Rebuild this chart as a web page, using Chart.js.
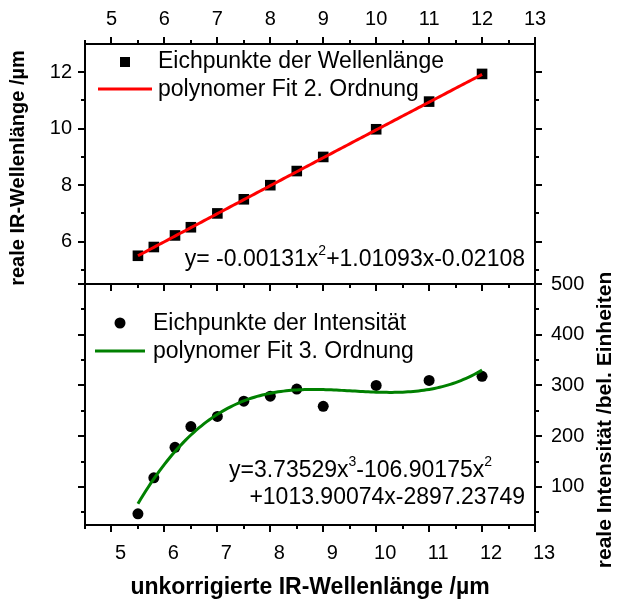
<!DOCTYPE html>
<html>
<head>
<meta charset="utf-8">
<script src="https://cdn.jsdelivr.net/npm/chart.js@4.4.1/dist/chart.umd.min.js"></script>
<style>
  html, body { margin: 0; padding: 0; background: #fff; }
  #wrap { position: relative; width: 617px; height: 605px; overflow: hidden; }
  #wrap canvas { position: absolute; left: 0; }
  #topChart { top: 0; }
  #bottomChart { top: 270px; }
</style>
</head>
<body>
<div id="wrap">
  <canvas id="bottomChart" width="617" height="335"></canvas>
  <canvas id="topChart" width="617" height="300"></canvas>
</div>
<script>
// calibration points (uncorrected wavelength, µm)
const uncorrected = [5.5, 5.8, 6.2, 6.5, 7.0, 7.5, 8.0, 8.5, 9.0, 10.0, 11.0, 12.0];
const realWavelength = [5.50, 5.81, 6.22, 6.51, 7.00, 7.50, 8.00, 8.50, 9.00, 9.98, 10.96, 11.94];
const realIntensity = [47, 118, 178, 219, 239, 269, 279, 293, 259, 300, 310, 318];

// fit coefficients, lowest order first
const fit2Coef = [-0.02108, 1.01093, -0.00131];
const fit3Coef = [-2897.23749, 1013.90074, -106.90175, 3.73529];
const fitRange = [5.5, 12];

// axis ticks
const xTicks = [5, 6, 7, 8, 9, 10, 11, 12, 13];
const xMinor = [4.5, 5.5, 6.5, 7.5, 8.5, 9.5, 10.5, 11.5, 12.5];
const waveTicks = [6, 8, 10, 12];
const waveMinor = [5, 7, 9, 11];
const intTicks = [100, 200, 300, 400, 500];
const intMinor = [50, 150, 250, 350, 450];

const FONT = "'Liberation Sans', Arial, sans-serif";
const NOTE_SIZE = 23;

function poly(c, x) {
  return c.reduce((s, a, i) => s + a * Math.pow(x, i), 0);
}
function fitPoints(c) {
  const pts = [];
  for (let x = fitRange[0]; x <= fitRange[1] + 1e-9; x += 0.05) {
    pts.push({ x: x, y: poly(c, x) });
  }
  return pts;
}
function pairs(xs, ys) {
  return xs.map((x, i) => ({ x: x, y: ys[i] }));
}

// outward tick marks, major and minor, on every side of a panel
const tickMarks = {
  id: 'tickMarks',
  afterDraw(chart, args, opts) {
    const ctx = chart.ctx;
    ctx.save();
    ctx.strokeStyle = '#000';
    ctx.lineWidth = 2;
    Object.keys(opts.sets || {}).forEach(id => {
      const scale = chart.scales[id];
      const set = opts.sets[id];
      [[set.major, 7], [set.minor, 4]].forEach(([vals, len]) => {
        vals.forEach(v => {
          const p = Math.round(scale.getPixelForValue(v));
          ctx.beginPath();
          if (scale.position === 'top') { ctx.moveTo(p, scale.bottom); ctx.lineTo(p, scale.bottom - len); }
          else if (scale.position === 'bottom') { ctx.moveTo(p, scale.top); ctx.lineTo(p, scale.top + len); }
          else if (scale.position === 'left') { ctx.moveTo(scale.right, p); ctx.lineTo(scale.right - len, p); }
          else { ctx.moveTo(scale.left, p); ctx.lineTo(scale.left + len, p); }
          ctx.stroke();
        });
      });
    });
    ctx.restore();
  }
};

// text with superscripts, right aligned at xr
function drawRich(ctx, parts, xr, y) {
  const base = NOTE_SIZE + 'px ' + FONT, sup = '14px ' + FONT;
  let w = 0;
  parts.forEach(p => { ctx.font = p[1] ? sup : base; w += ctx.measureText(p[0]).width; });
  let x = xr - w;
  ctx.textAlign = 'left';
  ctx.textBaseline = 'middle';
  parts.forEach(p => {
    ctx.font = p[1] ? sup : base;
    ctx.fillText(p[0], x, p[1] ? y - 9 : y);
    x += ctx.measureText(p[0]).width;
  });
}

function rotatedTitle(ctx, text, x, y, size) {
  ctx.save();
  ctx.translate(x, y);
  ctx.rotate(-Math.PI / 2);
  ctx.font = 'bold ' + size + 'px ' + FONT;
  ctx.textAlign = 'center';
  ctx.textBaseline = 'middle';
  ctx.fillText(text, 0, 0);
  ctx.restore();
}

// fixed-size axis box, so both panels line up exactly
function axis(pos, min, max, size, opts) {
  const horiz = pos === 'top' || pos === 'bottom';
  return Object.assign({
    type: 'linear',
    position: pos,
    min: min,
    max: max,
    grid: { display: false, drawTicks: false },
    border: { display: true, color: '#000', width: 2 },
    ticks: { display: false },
    afterFit: s => {
      if (horiz) s.height = size; else s.width = size;
      s.paddingTop = s.paddingBottom = s.paddingLeft = s.paddingRight = 0;
    }
  }, opts || {});
}
function labelled(vals, padding, extra) {
  return {
    afterBuildTicks: s => { s.ticks = vals.map(v => ({ value: v })); },
    ticks: Object.assign({
      display: true,
      color: '#000',
      padding: padding,
      font: { family: FONT, size: 20 }
    }, extra || {})
  };
}

Chart.defaults.animation = false;
Chart.defaults.responsive = false;
Chart.defaults.devicePixelRatio = 1;

// upper panel: real vs uncorrected wavelength
new Chart(document.getElementById('topChart'), {
  type: 'scatter',
  data: {
    datasets: [
      {
        label: 'polynomer Fit 2. Ordnung',
        data: fitPoints(fit2Coef),
        showLine: true,
        borderColor: '#ff0000',
        borderWidth: 3,
        pointRadius: 0,
        xAxisID: 'x', yAxisID: 'y'
      },
      {
        label: 'Eichpunkte der Wellenlänge',
        data: pairs(uncorrected, realWavelength),
        pointStyle: 'rect',
        pointRadius: 7.5,
        backgroundColor: '#000',
        borderColor: '#000',
        borderWidth: 0,
        xAxisID: 'x', yAxisID: 'y'
      }
    ]
  },
  options: {
    layout: { padding: 0 },
    plugins: {
      legend: { display: false },
      tooltip: { enabled: false },
      tickMarks: { sets: {
        x: { major: xTicks, minor: xMinor },
        x2: { major: xTicks, minor: xMinor },
        y: { major: waveTicks, minor: waveMinor },
        y2: { major: waveTicks, minor: waveMinor }
      } }
    },
    scales: {
      x: axis('top', 4.5, 13, 44, labelled(xTicks, 13)),
      x2: axis('bottom', 4.5, 13, 16),
      y: axis('left', 4.5, 13, 85, labelled(waveTicks, 13)),
      y2: axis('right', 4.5, 13, 82)
    }
  },
  plugins: [tickMarks, {
    id: 'topNotes',
    afterDraw(chart) {
      const ctx = chart.ctx;
      ctx.save();
      ctx.fillStyle = '#000';
      ctx.fillRect(120, 57, 10, 10);
      ctx.strokeStyle = '#ff0000';
      ctx.lineWidth = 3;
      ctx.beginPath();
      ctx.moveTo(98, 89);
      ctx.lineTo(152, 89);
      ctx.stroke();
      ctx.font = NOTE_SIZE + 'px ' + FONT;
      ctx.textAlign = 'left';
      ctx.textBaseline = 'middle';
      ctx.fillText('Eichpunkte der Wellenlänge', 158, 62);
      ctx.fillText('polynomer Fit 2. Ordnung', 158, 90);
      drawRich(ctx, [['y= -0.00131x'], ['2', true], ['+1.01093x-0.02108']], 525, 260);
      rotatedTitle(ctx, 'reale IR-Wellenlänge /µm', 18, 168, 20);
      ctx.restore();
    }
  }]
});

// lower panel: real intensity vs uncorrected wavelength
new Chart(document.getElementById('bottomChart'), {
  type: 'scatter',
  data: {
    datasets: [
      {
        label: 'polynomer Fit 3. Ordnung',
        data: fitPoints(fit3Coef),
        showLine: true,
        borderColor: '#008000',
        borderWidth: 3,
        pointRadius: 0,
        xAxisID: 'x', yAxisID: 'y'
      },
      {
        label: 'Eichpunkte der Intensität',
        data: pairs(uncorrected, realIntensity),
        pointStyle: 'circle',
        pointRadius: 5.5,
        backgroundColor: '#000',
        borderColor: '#000',
        borderWidth: 0,
        xAxisID: 'x', yAxisID: 'y'
      }
    ]
  },
  options: {
    layout: { padding: 0 },
    plugins: {
      legend: { display: false },
      tooltip: { enabled: false },
      tickMarks: { sets: {
        x: { major: xTicks, minor: xMinor },
        y: { major: intTicks, minor: intMinor },
        y2: { major: intTicks, minor: intMinor }
      } }
    },
    scales: {
      x2: axis('top', 4.5, 13, 14),
      x: axis('bottom', 4.5, 13, 80, labelled(xTicks, 16, { labelOffset: 9 })),
      y2: axis('left', 25, 500, 85),
      y: axis('right', 25, 500, 82, labelled(intTicks, 16))
    }
  },
  plugins: [tickMarks, {
    id: 'bottomNotes',
    afterDraw(chart) {
      const ctx = chart.ctx;
      ctx.save();
      ctx.fillStyle = '#000';
      ctx.beginPath();
      ctx.arc(120, 53, 5.5, 0, Math.PI * 2);
      ctx.fill();
      ctx.strokeStyle = '#008000';
      ctx.lineWidth = 3;
      ctx.beginPath();
      ctx.moveTo(95, 81);
      ctx.lineTo(145, 81);
      ctx.stroke();
      ctx.font = NOTE_SIZE + 'px ' + FONT;
      ctx.textAlign = 'left';
      ctx.textBaseline = 'middle';
      ctx.fillText('Eichpunkte der Intensität', 153, 54);
      ctx.fillText('polynomer Fit 3. Ordnung', 153, 82);
      drawRich(ctx, [['y=3.73529x'], ['3', true], ['-106.90175x'], ['2', true]], 492, 201);
      drawRich(ctx, [['+1013.90074x-2897.23749']], 525, 228);
      ctx.font = 'bold 23px ' + FONT;
      ctx.textAlign = 'center';
      ctx.fillText('unkorrigierte IR-Wellenlänge /µm', 310, 318);
      rotatedTitle(ctx, 'reale Intensität /bel. Einheiten', 605, 150, 21);
      ctx.restore();
    }
  }]
});
</script>
</body>
</html>
